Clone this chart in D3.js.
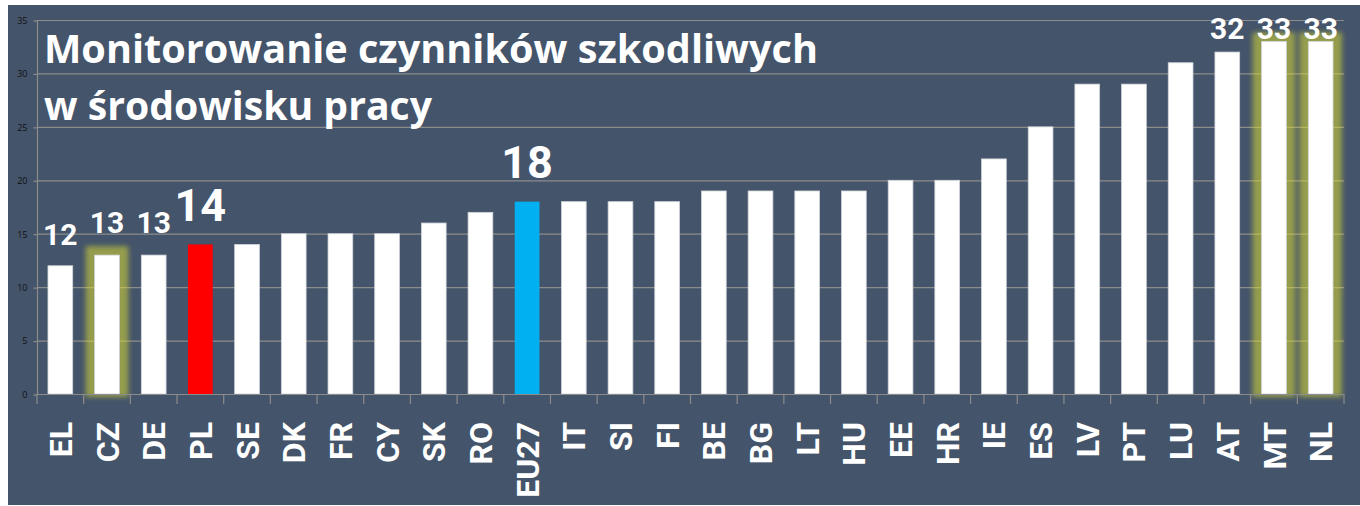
<!doctype html>
<html>
<head>
<meta charset="utf-8">
<script src="https://cdn.jsdelivr.net/npm/d3@7"></script>
<style>
  body { margin: 0; background: #fff; }
</style>
</head>
<body>
<script>
// data
var categories = ["EL","CZ","DE","PL","SE","DK","FR","CY","SK","RO","EU27","IT","SI","FI",
                  "BE","BG","LT","HU","EE","HR","IE","ES","LV","PT","LU","AT","MT","NL"];
var values = [12,13,13,14,14,15,15,15,16,17,18,18,18,18,19,19,19,19,20,20,22,25,29,29,31,32,33,33];
var yTicks = [0,5,10,15,20,25,30,35];
var titleLines = ["Monitorowanie czynników szkodliwych", "w środowisku pracy"];
var labelled = ["EL","CZ","DE","PL","EU27","AT","MT","NL"];
var glowing = ["CZ","MT","NL"];

// look
var barColor = {PL: "#ff0000", EU27: "#00b0f0"};
var labelStyle = {
  EL:   {size: 30, gap: 21},
  CZ:   {size: 30, gap: 22},
  DE:   {size: 30, gap: 22},
  PL:   {size: 45, gap: 23},
  EU27: {size: 45, gap: 24},
  AT:   {size: 30, gap: 13},
  MT:   {size: 30, gap: 2},
  NL:   {size: 30, gap: 2}
};

var W = 1360, H = 506;
var plot = {left: 37, right: 1344, top: 20, bottom: 394};

var svg = d3.select("body").append("svg")
    .attr("width", W)
    .attr("height", H);

var defs = svg.append("defs");
defs.append("filter")
    .attr("id", "glow")
    .attr("x", "-50%").attr("y", "-20%")
    .attr("width", "200%").attr("height", "140%")
  .append("feGaussianBlur")
    .attr("stdDeviation", 2.5);

// panel
svg.append("rect")
    .attr("x", 8).attr("y", 5)
    .attr("width", W - 8).attr("height", 500)
    .attr("fill", "#44546a");

var x = d3.scaleBand()
    .domain(categories)
    .range([plot.left, plot.right])
    .paddingInner(0.47)
    .paddingOuter(0.235);

var y = d3.scaleLinear()
    .domain([0, 35])
    .range([plot.bottom, plot.top]);

// gridlines
svg.append("g")
  .selectAll("line")
  .data(yTicks)
  .enter().append("line")
    .attr("x1", plot.left)
    .attr("x2", plot.right)
    .attr("y1", function(d) { return y(d) + 0.5; })
    .attr("y2", function(d) { return y(d) + 0.5; })
    .attr("stroke", "#8c8c8c")
    .attr("stroke-width", 1.2);

// y axis
var yAxis = svg.append("g")
    .attr("transform", "translate(" + (plot.left + 0.5) + ",0.5)")
    .call(d3.axisLeft(y).tickValues(yTicks).tickSize(4).tickPadding(6));
yAxis.selectAll("line, path").attr("stroke", "#8c8c8c").attr("stroke-width", 1.2);
yAxis.select(".domain").attr("d", "M0," + (plot.top - 0.5) + "V" + (plot.bottom - 0.5));
yAxis.selectAll("text")
    .attr("fill", "#111")
    .attr("font-family", "'Open Sans', sans-serif")
    .attr("font-size", "9px");

// glow behind some bars
var half = x.step() * x.paddingInner() / 2;
svg.append("g")
  .selectAll("rect")
  .data(categories.filter(function(c) { return glowing.indexOf(c) >= 0; }))
  .enter().append("rect")
    .attr("x", function(c) { return x(c) - 9; })
    .attr("y", function(c) { return y(values[categories.indexOf(c)]) - 9; })
    .attr("width", x.bandwidth() + 18)
    .attr("height", function(c) { return plot.bottom - y(values[categories.indexOf(c)]) + 12; })
    .attr("fill", "#e0e030")
    .attr("opacity", 0.52)
    .attr("filter", "url(#glow)");

// bars
svg.append("g")
  .selectAll("rect")
  .data(categories)
  .enter().append("rect")
    .attr("x", function(c) { return x(c); })
    .attr("y", function(c, i) { return y(values[i]); })
    .attr("width", x.bandwidth())
    .attr("height", function(c, i) { return plot.bottom - y(values[i]); })
    .attr("fill", function(c) { return barColor[c] || "#ffffff"; })
    .attr("stroke", function(c) { return barColor[c] ? "none" : "#cfd3da"; })
    .attr("stroke-width", 0.8);

// x axis line and boundary ticks
var xAxis = svg.append("g");
xAxis.append("line")
    .attr("x1", plot.left).attr("x2", plot.right)
    .attr("y1", plot.bottom + 0.5).attr("y2", plot.bottom + 0.5)
    .attr("stroke", "#8c8c8c").attr("stroke-width", 1.2);
xAxis.selectAll(".tk")
    .data(categories.concat(["end"]))
    .enter().append("line")
    .attr("class", "tk")
    .attr("x1", function(c) { return c === "end" ? plot.right : x(c) - half; })
    .attr("x2", function(c) { return c === "end" ? plot.right : x(c) - half; })
    .attr("y1", plot.bottom)
    .attr("y2", plot.bottom + 10)
    .attr("stroke", "#8c8c8c").attr("stroke-width", 1.2);

// category labels
svg.append("g")
  .selectAll("text")
  .data(categories)
  .enter().append("text")
    .attr("transform", function(c) {
      return "translate(" + (x(c) + x.bandwidth() / 2) + ",422) rotate(-90)";
    })
    .attr("dy", "0.36em")
    .attr("text-anchor", "end")
    .attr("fill", "#ffffff")
    .attr("font-family", "Roboto, sans-serif")
    .attr("font-weight", "bold")
    .attr("font-size", "32px")
    .text(function(c) { return c; });

// value labels
svg.append("g")
  .selectAll("text")
  .data(labelled)
  .enter().append("text")
    .attr("x", function(c) { return x(c) + x.bandwidth() / 2; })
    .attr("y", function(c) { return y(values[categories.indexOf(c)]) - labelStyle[c].gap; })
    .attr("text-anchor", "middle")
    .attr("fill", "#ffffff")
    .attr("font-family", "Roboto, sans-serif")
    .attr("font-weight", "bold")
    .attr("font-size", function(c) { return labelStyle[c].size + "px"; })
    .text(function(c) { return values[categories.indexOf(c)]; });

// title
var titleWidths = [774, 388];
svg.append("g")
  .selectAll("text")
  .data(titleLines)
  .enter().append("text")
    .attr("x", 44)
    .attr("y", function(d, i) { return 63 + i * 57; })
    .attr("fill", "#ffffff")
    .attr("font-family", "'Open Sans', sans-serif")
    .attr("font-weight", "bold")
    .attr("font-size", "39px")
    .attr("textLength", function(d, i) { return titleWidths[i]; })
    .attr("lengthAdjust", "spacingAndGlyphs")
    .text(function(d) { return d; });
</script>
</body>
</html>
